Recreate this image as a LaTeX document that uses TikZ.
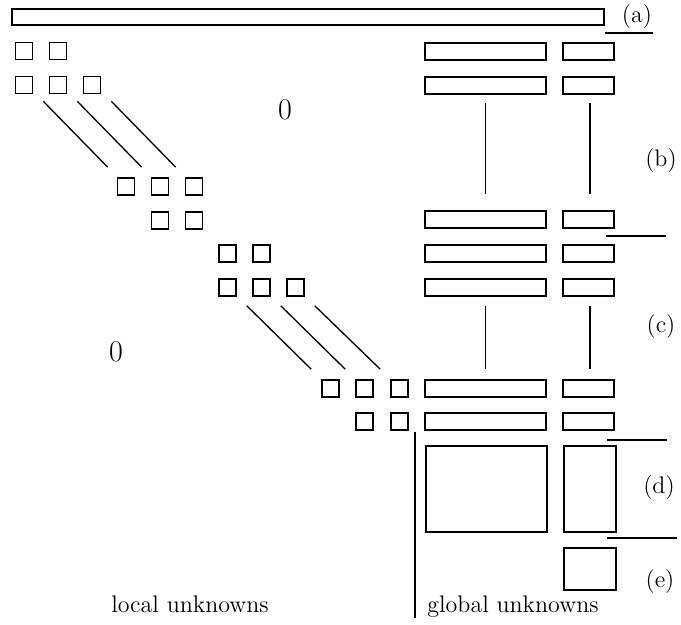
\documentclass[tikz,border=0pt]{standalone}
\usetikzlibrary{calc}
\begin{document}
\begin{tikzpicture}[x=0.5pt,y=-0.5pt,
  every node/.style={inner sep=0pt},
  sq/.style={draw,line width=0.8pt,minimum width=8.5pt,minimum height=8.5pt},
  wide/.style={draw,line width=0.8pt,minimum width=60.5pt,minimum height=8.5pt},
  narrow/.style={draw,line width=0.8pt,minimum width=25.5pt,minimum height=8.5pt},
  ln/.style={line width=0.65pt},
  lab/.style={font=\fontsize{12}{14}\selectfont},
  zero/.style={font=\fontsize{15}{18}\selectfont}]
\useasboundingbox (0,0) rectangle (681,625);
% top bar
\node[draw,line width=0.8pt,minimum width=296pt,minimum height=8pt] (top) at (308,17) {};
\node[lab] (la) at (637,17) {(a)};
\coordinate (sa1) at (605,33); \coordinate (sa2) at (653,33);
\draw[ln] (sa1) -- (sa2);
% block A1
\node[sq] (a1r1c1) at (24,51) {};
\node[sq] (a1r1c2) at (58,51) {};
\node[sq] (a1r2c1) at (24,85) {};
\node[sq] (a1r2c2) at (58,85) {};
\node[sq] (a1r2c3) at (92,85) {};
% block B1
\node[sq] (b1r1c1) at (126,186.5) {};
\node[sq] (b1r1c2) at (160,186.5) {};
\node[sq] (b1r1c3) at (194,186.5) {};
\node[sq] (b1r2c2) at (160,220.5) {};
\node[sq] (b1r2c3) at (194,220.5) {};
% block A2
\node[sq] (a2r1c1) at (227.5,253.5) {};
\node[sq] (a2r1c2) at (261.5,253.5) {};
\node[sq] (a2r2c1) at (227.5,287.5) {};
\node[sq] (a2r2c2) at (261.5,287.5) {};
\node[sq] (a2r2c3) at (295.5,287.5) {};
% block B2
\node[sq] (b2r1c1) at (330.5,388.5) {};
\node[sq] (b2r1c2) at (364.5,388.5) {};
\node[sq] (b2r1c3) at (399.5,388.5) {};
\node[sq] (b2r2c2) at (364.5,421.5) {};
\node[sq] (b2r2c3) at (399.5,421.5) {};
% diagonals
\foreach \i in {1,2,3}{
  \draw[ln] ($(a1r2c\i.south east)+(10,7)$) -- ($(b1r1c\i.north west)+(-9,-10)$);
  \draw[ln] ($(a2r2c\i.south east)+(10,9)$) -- ($(b2r1c\i.north west)+(-10,-10)$);
}
% zeros
\node[zero] (z1) at (285,110) {0};
\node[zero] (z2) at (116,352) {0};
% right column
\foreach \n/\y in {1/51.5,2/85.5,3/219.5,4/253.5,5/287.5,6/388.5,7/421.5}{
  \node[wide] (w\n) at (485.5,\y) {};
  \node[narrow] (n\n) at (588.5,\y) {};
}
\draw[ln] ($(w2.south)+(0,8)$) -- ($(w3.north)+(0,-16)$);
\draw[ln] ($(n2.south)+(1.5,8)$) -- ($(n3.north)+(1.5,-16)$);
\draw[ln] ($(w5.south)+(0,9)$) -- ($(w6.north)+(0,-10)$);
\draw[ln] ($(n5.south)+(1.5,9)$) -- ($(n6.north)+(1.5,-10)$);
% big blocks
\node[draw,line width=0.8pt,minimum width=60.5pt,minimum height=43pt] (bigw) at (486.5,489) {};
\node[draw,line width=0.8pt,minimum width=26pt,minimum height=43pt] (bign) at (590,489) {};
\node[draw,line width=0.8pt,minimum width=26pt,minimum height=21pt] (esq) at (590,569) {};
% separators
\coordinate (sb1) at (606,236); \coordinate (sb2) at (666,236);
\draw[ln] (sb1) -- (sb2);
\coordinate (sc1) at (607,440); \coordinate (sc2) at (667,440);
\draw[ln] (sc1) -- (sc2);
\coordinate (sd1) at (607,538); \coordinate (sd2) at (677,538);
\draw[ln] (sd1) -- (sd2);
\node[lab] (lb) at (661,161) {(b)};
\node[lab] (lc) at (661,327) {(c)};
\node[lab] (ld) at (659,488) {(d)};
\node[lab] (le) at (660,582) {(e)};
% vertical divider
\coordinate (v1) at (415,432); \coordinate (v2) at (415,618);
\draw[ln] (v1) -- (v2);
\node[lab,anchor=base] (loc) at (190,613) {local unknowns};
\node[lab,anchor=base west] (glob) at (427,613) {global unknowns};
\end{tikzpicture}
\end{document}
